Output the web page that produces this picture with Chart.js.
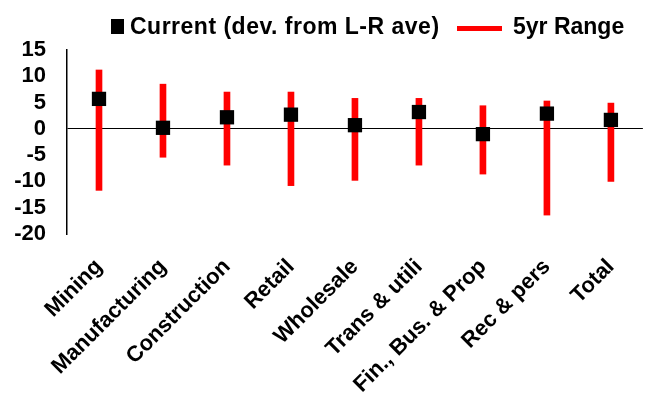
<!DOCTYPE html>
<html>
<head>
<meta charset="utf-8">
<script src="https://cdn.jsdelivr.net/npm/chart.js@4.4.1/dist/chart.umd.min.js"></script>
<style>
  html, body { margin: 0; padding: 0; background: #ffffff; }
  #wrap { width: 653px; height: 397px; position: relative; }
</style>
</head>
<body>
<div id="wrap"><canvas id="chart" width="653" height="397"></canvas></div>
<script>
// Sector deviations from long-run average, with 5-year range
const categories = ['Mining', 'Manufacturing', 'Construction', 'Retail', 'Wholesale',
                    'Trans & utili', 'Fin., Bus. & Prop', 'Rec & pers', 'Total'];
const current   = [5.7, 0.2, 2.2, 2.7, 0.7, 3.2, -1.0, 2.9, 1.7];
const rangeLow  = [-11.7, -5.4, -6.9, -10.8, -9.8, -6.9, -8.6, -16.4, -10.0];
const rangeHigh = [11.2, 8.5, 7.0, 7.0, 5.8, 5.8, 4.4, 5.3, 4.9];
const yTicks    = [15, 10, 5, 0, -5, -10, -15, -20];

const FONT = "'Liberation Sans', Arial, Helvetica, sans-serif";

// Legend drawn across the top: square marker for the point series, red stroke for the range
const topLegend = {
  id: 'topLegend',
  afterDraw(chart) {
    const ctx = chart.ctx;
    const ds = chart.data.datasets;
    const pts = ds.find(d => d.type === 'line');
    const rng = ds.find(d => d.type === 'bar');
    ctx.save();
    ctx.font = 'bold 23px ' + FONT;
    ctx.textBaseline = 'middle';
    ctx.textAlign = 'left';
    ctx.fillStyle = pts.backgroundColor;
    ctx.fillRect(111, 19, 13, 15);
    ctx.fillStyle = '#000000';
    ctx.letterSpacing = '0.5px';
    ctx.fillText(pts.label, 130, 28);
    ctx.letterSpacing = '0px';
    ctx.strokeStyle = rng.backgroundColor;
    ctx.lineWidth = 5;
    ctx.beginPath();
    ctx.moveTo(457, 28.5);
    ctx.lineTo(502, 28.5);
    ctx.stroke();
    ctx.fillStyle = '#000000';
    ctx.fillText(rng.label, 513, 28);
    ctx.restore();
  }
};

new Chart(document.getElementById('chart'), {
  data: {
    labels: categories,
    datasets: [
      {
        type: 'line',
        label: 'Current (dev. from L-R ave)',
        data: current,
        showLine: false,
        pointStyle: 'rect',
        pointRadius: 10.1,
        pointHoverRadius: 10.1,
        backgroundColor: '#000000',
        borderColor: '#000000',
        pointBorderWidth: 0,
        order: 0
      },
      {
        type: 'bar',
        label: '5yr Range',
        data: categories.map((_, i) => [rangeLow[i], rangeHigh[i]]),
        backgroundColor: '#ff0000',
        borderWidth: 0,
        barThickness: 6,
        order: 1
      }
    ]
  },
  options: {
    responsive: false,
    animation: false,
    layout: { padding: { top: 50, right: 6, left: 0, bottom: 0 } },
    plugins: {
      legend: { display: false },
      tooltip: { enabled: false }
    },
    scales: {
      x: {
        offset: true,
        grid: { display: false, drawTicks: false },
        border: { display: false },
        ticks: {
          color: '#000000',
          font: { family: FONT, size: 22, weight: 'bold' },
          minRotation: 45,
          maxRotation: 45,
          autoSkip: false,
          padding: 20
        },
        afterFit(scale) { scale.height = 163; }
      },
      y: {
        min: -20,
        max: 15,
        afterBuildTicks(scale) { scale.ticks = yTicks.map(v => ({ value: v })); },
        grid: {
          drawTicks: false,
          color: ctx => (ctx.tick && ctx.tick.value === 0 ? '#000000' : 'rgba(0,0,0,0)'),
          lineWidth: 1
        },
        border: { display: true, color: '#000000', width: 1.5 },
        ticks: {
          color: '#000000',
          font: { family: FONT, size: 22, weight: 'bold' },
          autoSkip: false,
          padding: 21
        },
        afterFit(scale) { scale.width = 67; }
      }
    }
  },
  plugins: [topLegend]
});
</script>
</body>
</html>
